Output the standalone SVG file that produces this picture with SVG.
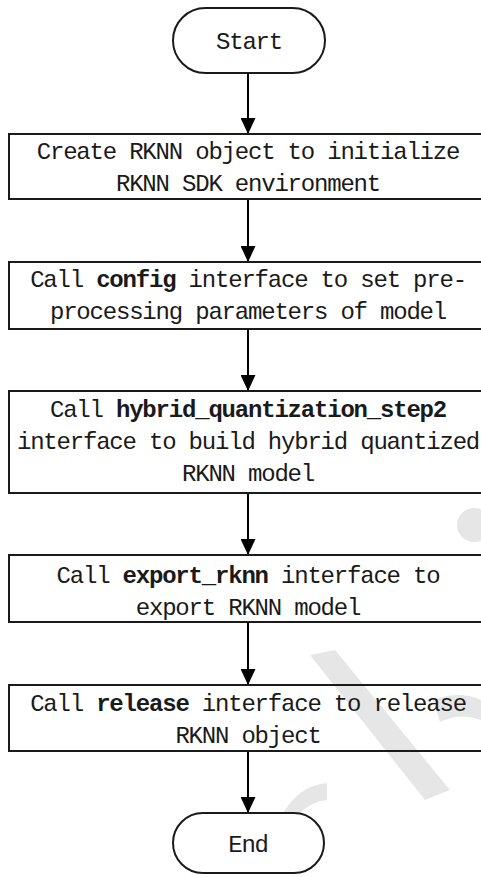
<svg xmlns="http://www.w3.org/2000/svg" width="481" height="877" viewBox="0 0 481 877">
<style>
.shape{fill:none;stroke:#1a1a1a;stroke-width:2}
.t{font-family:"Liberation Mono","DejaVu Sans Mono",monospace;font-size:24px;letter-spacing:-1.2px;fill:#1a1a1a;text-anchor:middle}
.b{font-weight:bold}
.wm{fill:#e6e6e6;stroke:none}
.edge{stroke:#000;stroke-width:2;fill:none;marker-end:url(#ah)}
</style>
<defs>
<marker id="ah" markerWidth="16" markerHeight="15" refX="16" refY="7.5" orient="auto" markerUnits="userSpaceOnUse">
<path d="M0,0 L16,7.5 L0,15 Z" fill="#000"/>
</marker>
</defs>
<rect width="481" height="877" fill="#fff"/>
<g id="watermark">
<circle class="wm" cx="474" cy="525" r="17"/>
<path class="wm" d="M310,655 L335,650 L450,790 L425,800 Z"/>
<path class="wm" d="M283,813 Q300,785 327,783 L327,800 Q310,802 300,813 Z"/>
<path class="wm" d="M433,700 Q460,690 481,700 L481,720 Q460,712 440,722 Z"/>
</g>
<g id="connectors">
<line class="edge" x1="248" y1="73" x2="248" y2="134"/>
<line class="edge" x1="248" y1="199" x2="248" y2="262"/>
<line class="edge" x1="248" y1="329" x2="248" y2="391"/>
<line class="edge" x1="248" y1="493" x2="248" y2="555"/>
<line class="edge" x1="248" y1="622" x2="248" y2="685"/>
<line class="edge" x1="248" y1="751" x2="248" y2="813"/>
</g>
<g id="start">
<rect class="shape" x="173" y="8" width="152" height="65" rx="32.5"/>
<text class="t" x="249" y="49">Start</text>
</g>
<g id="create">
<rect class="shape" x="9" y="134" width="478" height="65"/>
<text class="t" x="248" y="159">Create RKNN object to initialize</text>
<text class="t" x="248" y="191">RKNN SDK environment</text>
</g>
<g id="config">
<rect class="shape" x="9" y="262" width="478" height="67"/>
<text class="t" x="248" y="287">Call <tspan class="b">config</tspan> interface to set pre-</text>
<text class="t" x="248" y="319">processing parameters of model</text>
</g>
<g id="hybrid">
<rect class="shape" x="9" y="391" width="478" height="102"/>
<text class="t" x="248" y="417">Call <tspan class="b">hybrid_quantization_step2</tspan></text>
<text class="t" x="248" y="449">interface to build hybrid quantized</text>
<text class="t" x="248" y="481">RKNN model</text>
</g>
<g id="export">
<rect class="shape" x="9" y="555" width="478" height="67"/>
<text class="t" x="248" y="583">Call <tspan class="b">export_rknn</tspan> interface to</text>
<text class="t" x="248" y="615">export RKNN model</text>
</g>
<g id="release">
<rect class="shape" x="9" y="685" width="478" height="66"/>
<text class="t" x="248" y="711">Call <tspan class="b">release</tspan> interface to release</text>
<text class="t" x="248" y="743">RKNN object</text>
</g>
<g id="end">
<rect class="shape" x="173" y="813" width="151" height="60" rx="30"/>
<text class="t" x="248" y="852">End</text>
</g>
</svg>
